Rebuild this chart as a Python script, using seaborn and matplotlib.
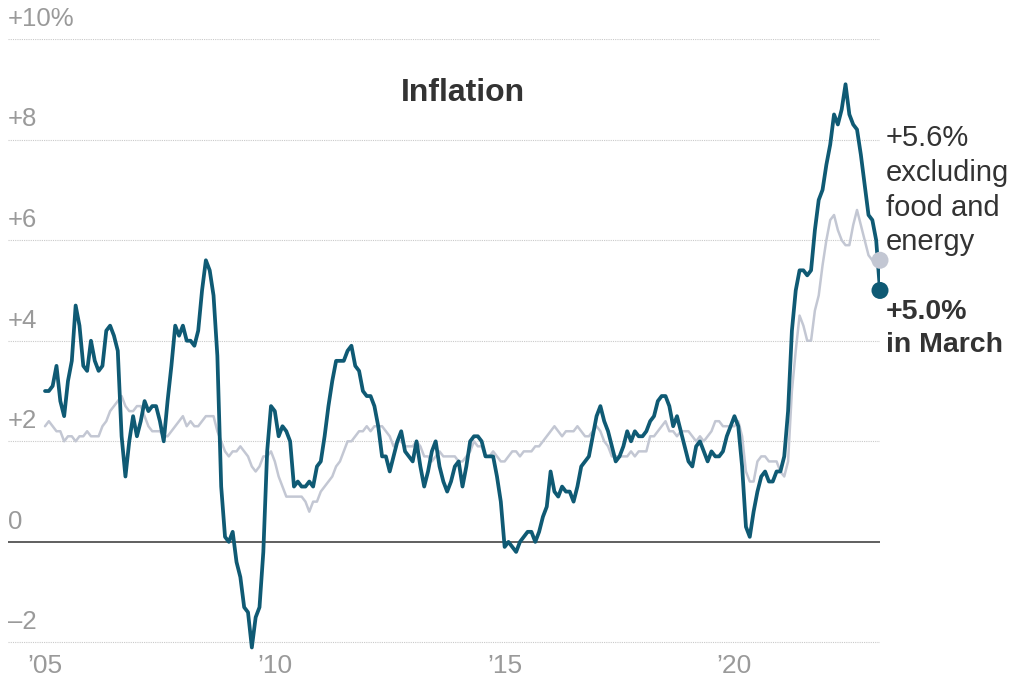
import numpy as np
import pandas as pd
import matplotlib.pyplot as plt
import matplotlib.transforms as mtransforms
import seaborn as sns

# Year-over-year change in consumer prices, monthly, Jan 2005 - Mar 2023
cpi_all = [
    3.0, 3.0, 3.1, 3.5, 2.8, 2.5, 3.2, 3.6, 4.7, 4.3, 3.5, 3.4,   # 2005
    4.0, 3.6, 3.4, 3.5, 4.2, 4.3, 4.1, 3.8, 2.1, 1.3, 2.0, 2.5,   # 2006
    2.1, 2.4, 2.8, 2.6, 2.7, 2.7, 2.4, 2.0, 2.8, 3.5, 4.3, 4.1,   # 2007
    4.3, 4.0, 4.0, 3.9, 4.2, 5.0, 5.6, 5.4, 4.9, 3.7, 1.1, 0.1,   # 2008
    0.0, 0.2, -0.4, -0.7, -1.3, -1.4, -2.1, -1.5, -1.3, -0.2, 1.8, 2.7,  # 2009
    2.6, 2.1, 2.3, 2.2, 2.0, 1.1, 1.2, 1.1, 1.1, 1.2, 1.1, 1.5,   # 2010
    1.6, 2.1, 2.7, 3.2, 3.6, 3.6, 3.6, 3.8, 3.9, 3.5, 3.4, 3.0,   # 2011
    2.9, 2.9, 2.7, 2.3, 1.7, 1.7, 1.4, 1.7, 2.0, 2.2, 1.8, 1.7,   # 2012
    1.6, 2.0, 1.5, 1.1, 1.4, 1.8, 2.0, 1.5, 1.2, 1.0, 1.2, 1.5,   # 2013
    1.6, 1.1, 1.5, 2.0, 2.1, 2.1, 2.0, 1.7, 1.7, 1.7, 1.3, 0.8,   # 2014
    -0.1, 0.0, -0.1, -0.2, 0.0, 0.1, 0.2, 0.2, 0.0, 0.2, 0.5, 0.7,  # 2015
    1.4, 1.0, 0.9, 1.1, 1.0, 1.0, 0.8, 1.1, 1.5, 1.6, 1.7, 2.1,   # 2016
    2.5, 2.7, 2.4, 2.2, 1.9, 1.6, 1.7, 1.9, 2.2, 2.0, 2.2, 2.1,   # 2017
    2.1, 2.2, 2.4, 2.5, 2.8, 2.9, 2.9, 2.7, 2.3, 2.5, 2.2, 1.9,   # 2018
    1.6, 1.5, 1.9, 2.0, 1.8, 1.6, 1.8, 1.7, 1.7, 1.8, 2.1, 2.3,   # 2019
    2.5, 2.3, 1.5, 0.3, 0.1, 0.6, 1.0, 1.3, 1.4, 1.2, 1.2, 1.4,   # 2020
    1.4, 1.7, 2.6, 4.2, 5.0, 5.4, 5.4, 5.3, 5.4, 6.2, 6.8, 7.0,   # 2021
    7.5, 7.9, 8.5, 8.3, 8.6, 9.1, 8.5, 8.3, 8.2, 7.7, 7.1, 6.5,   # 2022
    6.4, 6.0, 5.0,                                                # 2023
]

# Same, excluding food and energy
cpi_core = [
    2.3, 2.4, 2.3, 2.2, 2.2, 2.0, 2.1, 2.1, 2.0, 2.1, 2.1, 2.2,   # 2005
    2.1, 2.1, 2.1, 2.3, 2.4, 2.6, 2.7, 2.8, 2.9, 2.7, 2.6, 2.6,   # 2006
    2.7, 2.7, 2.5, 2.3, 2.2, 2.2, 2.2, 2.1, 2.1, 2.2, 2.3, 2.4,   # 2007
    2.5, 2.3, 2.4, 2.3, 2.3, 2.4, 2.5, 2.5, 2.5, 2.2, 2.0, 1.8,   # 2008
    1.7, 1.8, 1.8, 1.9, 1.8, 1.7, 1.5, 1.4, 1.5, 1.7, 1.7, 1.8,   # 2009
    1.6, 1.3, 1.1, 0.9, 0.9, 0.9, 0.9, 0.9, 0.8, 0.6, 0.8, 0.8,   # 2010
    1.0, 1.1, 1.2, 1.3, 1.5, 1.6, 1.8, 2.0, 2.0, 2.1, 2.2, 2.2,   # 2011
    2.3, 2.2, 2.3, 2.3, 2.3, 2.2, 2.1, 1.9, 2.0, 2.0, 1.9, 1.9,   # 2012
    1.9, 2.0, 1.9, 1.7, 1.7, 1.6, 1.7, 1.8, 1.7, 1.7, 1.7, 1.7,   # 2013
    1.6, 1.6, 1.7, 1.8, 2.0, 1.9, 1.9, 1.7, 1.7, 1.8, 1.7, 1.6,   # 2014
    1.6, 1.7, 1.8, 1.8, 1.7, 1.8, 1.8, 1.8, 1.9, 1.9, 2.0, 2.1,   # 2015
    2.2, 2.3, 2.2, 2.1, 2.2, 2.2, 2.2, 2.3, 2.2, 2.1, 2.1, 2.2,   # 2016
    2.3, 2.2, 2.0, 1.9, 1.7, 1.7, 1.7, 1.7, 1.7, 1.8, 1.7, 1.8,   # 2017
    1.8, 1.8, 2.1, 2.1, 2.2, 2.3, 2.4, 2.2, 2.2, 2.1, 2.2, 2.2,   # 2018
    2.2, 2.1, 2.0, 2.1, 2.0, 2.1, 2.2, 2.4, 2.4, 2.3, 2.3, 2.3,   # 2019
    2.3, 2.4, 2.1, 1.4, 1.2, 1.2, 1.6, 1.7, 1.7, 1.6, 1.6, 1.6,   # 2020
    1.4, 1.3, 1.6, 3.0, 3.8, 4.5, 4.3, 4.0, 4.0, 4.6, 4.9, 5.5,   # 2021
    6.0, 6.4, 6.5, 6.2, 6.0, 5.9, 5.9, 6.3, 6.6, 6.3, 6.0, 5.7,   # 2022
    5.6, 5.5, 5.6,                                                # 2023
]

months = pd.date_range('2005-01-01', periods=len(cpi_all), freq='MS')

y_ticks = [-2, 0, 2, 4, 6, 8, 10]
y_tick_labels = ['\u20132', '0', '+2', '+4', '+6', '+8', '+10%']
x_ticks = [2005, 2010, 2015, 2020]
x_tick_labels = ['\u201905', '\u201910', '\u201915', '\u201920']

DARK = '#0f5a74'
LIGHT = '#c3c7d3'
GRAY = '#9a9a9a'
TEXT = '#333333'

# fractional years so the x axis is a plain number line
t = months.year + (months.month - 1) / 12.0
df = pd.concat([
    pd.DataFrame({'t': t, 'value': cpi_core, 'series': 'core'}),
    pd.DataFrame({'t': t, 'value': cpi_all, 'series': 'all'}),
], ignore_index=True)
last = df[df['t'] == t[-1]]

sns.set_style('white')
plt.rcParams['font.family'] = ['Liberation Sans', 'DejaVu Sans']

fig = plt.figure(figsize=(10.24, 6.82), dpi=100)
ax = fig.add_axes([8 / 1024, 1 - 650 / 682, 872 / 1024, 611 / 682])

# grid first, so the lines sit on top
for v in y_ticks:
    if v == 0:
        ax.axhline(v, color='#444444', lw=1.2, zorder=1)
    else:
        ax.axhline(v, color='#c9c9c9', lw=0.8, ls=(0, (1, 1)), zorder=1)

sns.lineplot(data=df[df['series'] == 'core'], x='t', y='value', color=LIGHT,
             lw=1.8, ax=ax, zorder=2)
sns.lineplot(data=df[df['series'] == 'all'], x='t', y='value', color=DARK,
             lw=2.7, ax=ax, zorder=3)
sns.scatterplot(data=last, x='t', y='value', hue='series',
                palette={'core': LIGHT, 'all': DARK}, s=150, linewidth=0,
                legend=False, ax=ax, zorder=4, clip_on=False)

ax.set_xlim(2004.195, t[-1])
ax.set_ylim(-2.15, 10)
sns.despine(ax=ax, left=True, bottom=True)
ax.set_xlabel('')
ax.set_ylabel('')

# y labels sit just above their gridlines at the left edge
ax.set_yticks([])
offset = mtransforms.ScaledTranslation(0, 9.5 / 72, fig.dpi_scale_trans)
trans = mtransforms.blended_transform_factory(ax.transAxes, ax.transData) + offset
for v, lab in zip(y_ticks, y_tick_labels):
    ax.text(0, v, lab, transform=trans, ha='left', va='baseline',
            fontsize=18.5, color=GRAY)

ax.set_xticks(x_ticks)
ax.set_xticklabels(x_tick_labels, fontsize=19, color=GRAY)
ax.tick_params(axis='x', length=0, pad=3)

ax.text(0.522, 0.912, 'Inflation', transform=ax.transAxes, ha='center',
        va='center', fontsize=23, fontweight='bold', color=TEXT)

ax.text(t[-1] + 0.12, 8.3, '+5.6%\nexcluding\nfood and\nenergy',
        ha='left', va='top', fontsize=21, color=TEXT, linespacing=1.3)
ax.text(t[-1] + 0.12, 4.82, '+5.0%\nin March', ha='left', va='top',
        fontsize=20.5, fontweight='bold', color=TEXT, linespacing=1.35)

fig.savefig('out.png', dpi=100, facecolor='white')
